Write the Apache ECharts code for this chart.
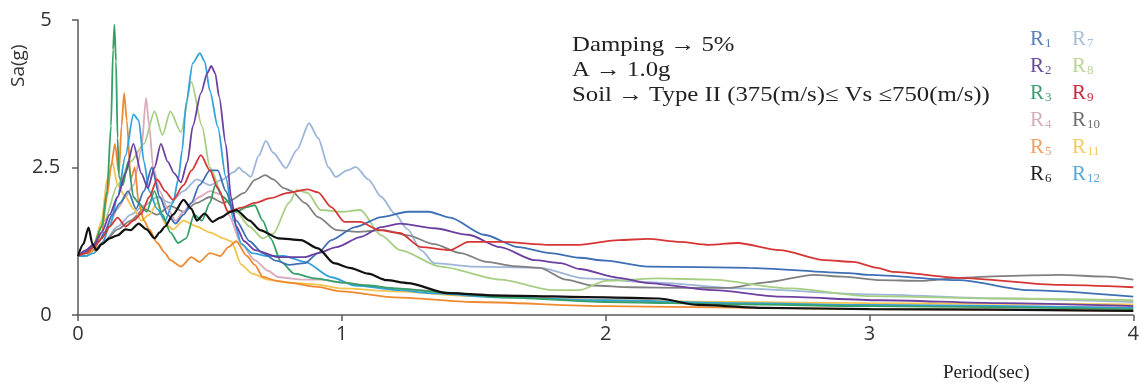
<!DOCTYPE html>
<html>
<head>
<meta charset="utf-8">
<script src="https://cdn.jsdelivr.net/npm/echarts@6/dist/echarts.min.js"></script>
<style>
  html, body { margin: 0; padding: 0; background: #fff; }
  #chart { width: 1142px; height: 387px; }
</style>
</head>
<body>
<div id="chart"></div>
<script>
// Response spectra of the twelve records, [period (s), Sa (g)] pairs
const R1 = [[0,1.0],[0.02,1.05],[0.05,1.15],[0.08,1.25],[0.1,1.4],[0.13,1.7],[0.16,1.9],[0.19,2.1],[0.22,1.8],[0.25,2.1],[0.28,2.5],[0.31,2.0],[0.34,1.7],[0.37,1.55],[0.4,1.7],[0.43,1.9],[0.46,2.2],[0.5,2.45],[0.53,2.45],[0.56,2.1],[0.6,1.6],[0.65,1.25],[0.7,1.05],[0.75,0.92],[0.8,0.85],[0.86,0.88],[0.91,1.05],[0.96,1.27],[1.05,1.49],[1.15,1.66],[1.25,1.75],[1.33,1.75],[1.41,1.65],[1.54,1.36],[1.67,1.15],[1.79,1.05],[1.9,0.97],[2.0,0.92],[2.16,0.82],[2.54,0.8],[2.92,0.71],[3.0,0.68],[3.34,0.59],[3.6,0.42],[4.0,0.31]];
const R2 = [[0,1.0],[0.03,1.1],[0.06,1.2],[0.09,1.4],[0.12,1.7],[0.15,2.0],[0.18,2.4],[0.21,2.9],[0.24,2.4],[0.265,2.15],[0.29,2.5],[0.314,2.9],[0.34,2.6],[0.365,2.4],[0.39,2.25],[0.415,2.6],[0.435,3.2],[0.466,3.76],[0.49,4.1],[0.505,4.22],[0.52,4.1],[0.535,3.7],[0.56,2.9],[0.58,2.0],[0.6,1.5],[0.63,1.25],[0.67,1.1],[0.76,0.98],[0.86,0.98],[0.91,1.05],[0.98,1.15],[1.07,1.32],[1.15,1.49],[1.22,1.55],[1.35,1.47],[1.48,1.36],[1.6,1.15],[1.73,0.93],[1.83,0.88],[1.9,0.78],[2.05,0.63],[2.16,0.54],[2.41,0.42],[2.66,0.31],[3.04,0.25],[3.5,0.2],[4.0,0.15]];
const R3 = [[0,1.0],[0.03,1.05],[0.06,1.2],[0.09,1.5],[0.11,2.1],[0.125,3.2],[0.133,4.5],[0.138,4.92],[0.144,4.3],[0.15,3.0],[0.155,2.35],[0.17,2.2],[0.19,2.6],[0.21,2.0],[0.23,1.9],[0.26,1.75],[0.29,2.1],[0.32,1.7],[0.35,1.4],[0.38,1.22],[0.41,1.3],[0.44,1.7],[0.47,1.6],[0.5,1.9],[0.52,2.2],[0.55,2.0],[0.6,1.75],[0.64,1.83],[0.67,1.86],[0.7,1.6],[0.73,1.3],[0.77,0.9],[0.82,0.7],[0.9,0.62],[1.0,0.55],[1.1,0.5],[1.2,0.45],[1.4,0.38],[1.6,0.3],[2.0,0.22],[2.5,0.18],[3.0,0.15],[4.0,0.1]];
const R4 = [[0,1.0],[0.03,1.05],[0.06,1.15],[0.09,1.3],[0.12,1.55],[0.15,1.8],[0.18,2.0],[0.21,2.2],[0.24,2.8],[0.258,3.68],[0.27,3.2],[0.285,2.5],[0.31,2.1],[0.34,1.8],[0.37,1.6],[0.4,1.75],[0.43,1.9],[0.46,2.0],[0.5,2.1],[0.54,2.05],[0.57,1.7],[0.62,1.2],[0.67,0.93],[0.72,0.75],[0.76,0.64],[0.85,0.6],[0.92,0.6],[1.0,0.55],[1.2,0.45],[1.5,0.35],[2.0,0.25],[2.5,0.2],[3.0,0.17],[3.5,0.15],[4.0,0.13]];
const R5 = [[0,1.0],[0.03,1.0],[0.06,1.1],[0.09,1.4],[0.11,2.0],[0.125,2.5],[0.14,2.9],[0.155,2.4],[0.165,3.2],[0.175,3.76],[0.185,3.3],[0.2,2.3],[0.215,2.5],[0.23,1.9],[0.25,1.6],[0.27,1.45],[0.3,1.22],[0.33,1.05],[0.35,0.93],[0.39,0.82],[0.43,0.98],[0.46,0.9],[0.5,1.05],[0.54,1.0],[0.57,1.15],[0.6,1.25],[0.64,1.0],[0.67,0.85],[0.7,0.65],[0.75,0.58],[0.8,0.55],[0.9,0.48],[1.0,0.4],[1.2,0.3],[1.5,0.22],[2.0,0.15],[3.0,0.1],[4.0,0.07]];
const R6 = [[0,1.0],[0.02,1.2],[0.04,1.48],[0.055,1.2],[0.07,1.1],[0.09,1.2],[0.12,1.3],[0.15,1.35],[0.18,1.45],[0.2,1.44],[0.23,1.55],[0.26,1.45],[0.29,1.3],[0.31,1.4],[0.33,1.5],[0.36,1.7],[0.4,1.95],[0.43,1.8],[0.45,1.6],[0.48,1.72],[0.51,1.58],[0.54,1.65],[0.58,1.75],[0.6,1.78],[0.65,1.6],[0.69,1.44],[0.76,1.3],[0.845,1.27],[0.91,1.13],[0.97,0.88],[1.03,0.8],[1.1,0.7],[1.17,0.59],[1.25,0.54],[1.4,0.37],[1.6,0.33],[2.0,0.3],[2.2,0.28],[2.35,0.17],[2.6,0.12],[3.0,0.1],[4.0,0.07]];
const R7 = [[0,1.0],[0.03,1.05],[0.06,1.1],[0.1,1.25],[0.15,1.5],[0.2,1.7],[0.25,1.85],[0.3,2.0],[0.35,1.9],[0.4,2.1],[0.45,2.3],[0.5,2.2],[0.55,2.3],[0.59,2.42],[0.61,2.5],[0.63,2.42],[0.655,2.34],[0.685,2.7],[0.712,2.95],[0.74,2.75],[0.788,2.49],[0.83,2.8],[0.876,3.25],[0.91,3.0],[0.95,2.5],[0.977,2.34],[1.02,2.45],[1.053,2.51],[1.1,2.3],[1.15,2.0],[1.2,1.72],[1.25,1.45],[1.3,1.1],[1.35,0.88],[1.5,0.82],[1.75,0.8],[1.92,0.62],[2.2,0.55],[2.5,0.45],[3.0,0.35],[3.5,0.28],[4.0,0.22]];
const R8 = [[0,1.0],[0.05,1.1],[0.1,1.6],[0.15,2.2],[0.2,2.6],[0.25,2.9],[0.29,3.45],[0.32,3.05],[0.35,3.45],[0.39,3.1],[0.43,3.95],[0.47,3.2],[0.5,2.5],[0.55,2.0],[0.6,1.75],[0.65,1.5],[0.7,1.3],[0.74,1.38],[0.8,1.9],[0.83,2.12],[0.87,2.07],[0.92,1.78],[1.0,1.75],[1.07,1.78],[1.15,1.35],[1.22,1.1],[1.375,0.82],[1.6,0.6],[1.8,0.42],[1.9,0.42],[2.0,0.58],[2.2,0.62],[2.4,0.6],[2.7,0.45],[3.0,0.32],[3.5,0.28],[4.0,0.25]];
const R9 = [[0,1.0],[0.03,1.05],[0.06,1.15],[0.09,1.3],[0.12,1.5],[0.15,1.65],[0.18,1.5],[0.21,1.6],[0.24,1.72],[0.27,2.0],[0.3,2.3],[0.33,2.1],[0.36,1.95],[0.4,2.2],[0.43,2.45],[0.466,2.71],[0.5,2.45],[0.53,2.15],[0.57,1.75],[0.62,1.82],[0.67,1.9],[0.73,1.98],[0.795,2.07],[0.87,2.13],[0.91,2.08],[0.96,1.83],[1.01,1.58],[1.07,1.58],[1.14,1.44],[1.22,1.39],[1.3,1.15],[1.41,1.1],[1.48,1.24],[1.6,1.24],[1.79,1.19],[1.9,1.19],[2.05,1.27],[2.16,1.29],[2.28,1.24],[2.39,1.19],[2.5,1.22],[2.66,1.1],[2.83,0.93],[2.94,0.9],[3.03,0.8],[3.09,0.73],[3.34,0.63],[3.72,0.51],[4.0,0.47]];
const R10 = [[0,1.0],[0.03,1.05],[0.06,1.1],[0.1,1.25],[0.15,1.45],[0.2,1.6],[0.25,1.8],[0.3,1.7],[0.35,1.85],[0.4,1.75],[0.45,1.9],[0.5,2.0],[0.55,1.9],[0.58,1.95],[0.63,2.07],[0.67,2.29],[0.71,2.37],[0.74,2.3],[0.78,2.15],[0.81,2.1],[0.86,1.9],[0.91,1.66],[0.98,1.44],[1.06,1.41],[1.16,1.44],[1.25,1.35],[1.35,1.2],[1.45,1.05],[1.55,0.9],[1.65,0.83],[1.75,0.8],[1.85,0.6],[1.95,0.5],[2.1,0.47],[2.3,0.46],[2.47,0.46],[2.6,0.55],[2.79,0.68],[2.9,0.65],[3.04,0.59],[3.2,0.58],[3.34,0.63],[3.5,0.66],[3.72,0.68],[3.9,0.65],[4.0,0.6]];
const R11 = [[0,1.0],[0.03,1.05],[0.06,1.2],[0.09,1.6],[0.11,2.3],[0.13,2.6],[0.15,2.2],[0.18,2.0],[0.21,1.8],[0.24,1.6],[0.27,1.7],[0.3,1.9],[0.33,1.55],[0.36,1.45],[0.4,1.6],[0.45,1.5],[0.5,1.4],[0.55,1.3],[0.58,1.25],[0.62,0.85],[0.66,0.7],[0.72,0.6],[0.8,0.55],[0.9,0.52],[1.0,0.45],[1.2,0.4],[1.5,0.32],[2.0,0.25],[2.5,0.22],[3.0,0.2],[3.5,0.19],[4.0,0.18]];
const R12 = [[0,1.0],[0.03,1.0],[0.06,1.05],[0.09,1.2],[0.12,1.5],[0.15,2.0],[0.18,2.7],[0.21,3.4],[0.23,3.3],[0.25,2.6],[0.27,2.1],[0.3,1.8],[0.33,1.6],[0.36,1.9],[0.38,2.3],[0.395,2.8],[0.41,3.6],[0.435,4.27],[0.462,4.44],[0.48,4.3],[0.5,3.8],[0.53,3.19],[0.56,2.34],[0.59,1.6],[0.62,1.2],[0.66,1.05],[0.72,1.0],[0.78,1.0],[0.86,0.9],[0.96,0.64],[1.05,0.5],[1.22,0.42],[1.33,0.37],[1.6,0.3],[2.0,0.25],[2.5,0.2],[3.0,0.17],[4.0,0.12]];

// Axis ticks
const periodTicks = [0, 1, 2, 3, 4];
const saTicks = [0, 2.5, 5];

const records = [
  { name: 'R1',  data: R1,  color: '#3f6fb5', legend: '#5b80ba' },
  { name: 'R2',  data: R2,  color: '#6c3fa0', legend: '#6a4b9a' },
  { name: 'R3',  data: R3,  color: '#35a068', legend: '#3f9c6e' },
  { name: 'R4',  data: R4,  color: '#d9aabb', legend: '#d4aebb' },
  { name: 'R5',  data: R5,  color: '#ef8a30', legend: '#f0a064' },
  { name: 'R6',  data: R6,  color: '#111111', legend: '#222222' },
  { name: 'R7',  data: R7,  color: '#9db6d9', legend: '#a9bedb' },
  { name: 'R8',  data: R8,  color: '#a7cf84', legend: '#b9d598' },
  { name: 'R9',  data: R9,  color: '#d63636', legend: '#c8283c' },
  { name: 'R10', data: R10, color: '#808080', legend: '#707070' },
  { name: 'R11', data: R11, color: '#f3c44c', legend: '#f3cb62' },
  { name: 'R12', data: R12, color: '#33a2dc', legend: '#5aa8d8' }
];

// Drawing order: the black record sits on top of the bundle
const drawOrder = ['R7', 'R10', 'R8', 'R4', 'R11', 'R5', 'R12', 'R3', 'R1', 'R2', 'R9', 'R6'];

const chart = echarts.init(document.getElementById('chart'), null, { renderer: 'canvas' });

const series = drawOrder.map(function (n) {
  const r = records.find(function (x) { return x.name === n; });
  return {
    name: r.name,
    type: 'line',
    data: r.data,
    showSymbol: false,
    smooth: 0.25,
    smoothMonotone: 'x',
    lineStyle: { color: r.color, width: r.name === 'R6' ? 2.2 : 1.8 },
    itemStyle: { color: r.color },
    emphasis: { disabled: true },
    animation: false
  };
});

const axisColor = '#5a5a5a';
const serif = '"Liberation Serif", "DejaVu Serif", serif';
const sans = '"Open Sans", "Noto Sans", sans-serif';

// Annotation lines, set in a slightly widened serif face
function note(text, x, y) {
  return {
    type: 'text', x: x, y: y, scaleX: 1.18, silent: true,
    style: { text: text, font: '21px ' + serif, fill: '#222' }
  };
}

chart.setOption({
  backgroundColor: '#ffffff',
  animation: false,
  grid: { left: 78, right: 7, top: 20, bottom: 72 },
  xAxis: {
    type: 'value',
    min: periodTicks[0],
    max: periodTicks[periodTicks.length - 1],
    interval: 1,
    axisLine: { show: true, lineStyle: { color: axisColor, width: 1.5 } },
    axisTick: { show: true, length: 6, lineStyle: { color: axisColor, width: 1.5 } },
    axisLabel: { fontFamily: sans, fontSize: 20, color: '#333', margin: 9 },
    splitLine: { show: false }
  },
  yAxis: {
    type: 'value',
    min: saTicks[0],
    max: saTicks[saTicks.length - 1],
    interval: saTicks[1] - saTicks[0],
    axisLine: { show: true, lineStyle: { color: axisColor, width: 1.5 } },
    axisTick: { show: true, length: 6, lineStyle: { color: axisColor, width: 1.5 } },
    axisLabel: { fontFamily: sans, fontSize: 20, color: '#333', margin: 32, align: 'center' },
    splitLine: { show: false }
  },
  legend: {
    orient: 'vertical',
    left: 1020,
    top: 23,
    height: 165,
    itemWidth: 0,
    itemHeight: 0,
    itemGap: 5,
    icon: 'rect',
    selectedMode: false,
    data: records.map(function (r) {
      return { name: r.name, textStyle: { color: r.legend } };
    }),
    formatter: function (name) {
      return '{r|R}{s|' + name.slice(1) + '}';
    },
    textStyle: {
      fontFamily: serif,
      rich: {
        r: { fontFamily: serif, fontSize: 21, lineHeight: 22 },
        s: { fontFamily: serif, fontSize: 13, lineHeight: 22, width: 17, padding: [9, 0, 0, 1] }
      }
    }
  },
  graphic: [
    note('Damping \u2192 5%', 572, 35),
    note('A \u2192 1.0g', 572, 60),
    note('Soil \u2192 Type II (375(m/s)\u2264 Vs \u2264750(m/s))', 572, 85),
    {
      type: 'text', x: 943, y: 364, silent: true,
      style: { text: 'Period(sec)', font: '19px ' + serif, fill: '#222' }
    },
    {
      type: 'text', x: 9, y: 87, rotation: Math.PI / 2, silent: true,
      style: { text: 'Sa(g)', font: '19px ' + sans, fill: '#333' }
    }
  ],
  series: series
});
</script>
</body>
</html>
